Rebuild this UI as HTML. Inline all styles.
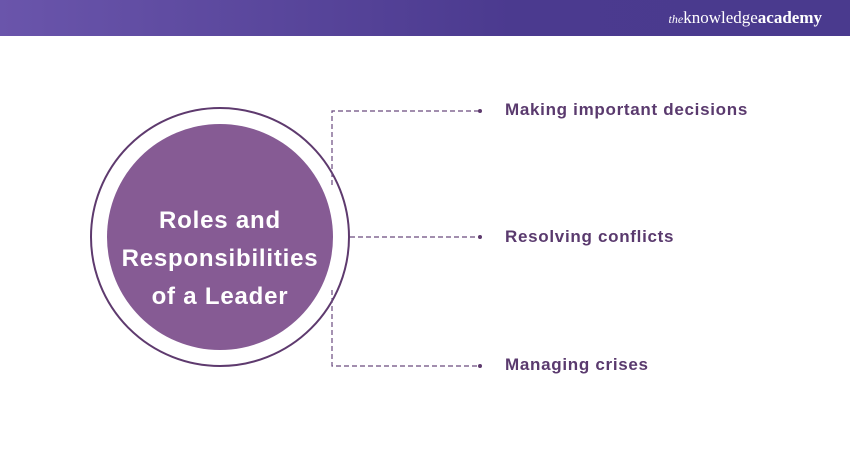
<!DOCTYPE html>
<html><head><style>
body{margin:0;width:850px;height:450px;background:#fff;overflow:hidden;font-family:"Liberation Sans",sans-serif}
.hdr{position:absolute;left:0;top:0;width:850px;height:36px;background:linear-gradient(90deg,#6a55ab,#4b3a8f 60%,#4a3a8e)}
.logo{position:absolute;right:28px;top:8px;color:#fff;font-family:"Liberation Serif",serif;font-size:17px}
.lbl{position:absolute;left:505px;font-size:17px;color:#5a3a6e;font-weight:bold;letter-spacing:0.7px}
</style></head><body>
<div class="hdr"><div class="logo"><i style="font-size:12px">the</i>knowledge<b>academy</b></div></div>
<svg width="850" height="450" style="position:absolute;left:0;top:0">
<circle cx="220" cy="237" r="129" fill="none" stroke="#5e3a6e" stroke-width="2"/>
<circle cx="220" cy="237" r="113" fill="#865b94"/>
<g stroke="#6a4a7e" stroke-width="1.2" stroke-dasharray="5,3" fill="none">
<path d="M332 185 V111 H480"/>
<path d="M350 237 H480"/>
<path d="M332 290 V366 H480"/>
</g>
<g fill="#5e3a6e"><circle cx="480" cy="111" r="2"/><circle cx="480" cy="237" r="2"/><circle cx="480" cy="366" r="2"/></g>
<g fill="#fff" font-family="Liberation Sans,sans-serif" font-weight="bold" font-size="24" letter-spacing="0.8" text-anchor="middle">
<text x="220" y="228">Roles and</text>
<text x="220" y="266">Responsibilities</text>
<text x="220" y="304">of a Leader</text>
</g>
</svg>
<div class="lbl" style="top:100px">Making important decisions</div>
<div class="lbl" style="top:227px">Resolving conflicts</div>
<div class="lbl" style="top:355px">Managing crises</div>
</body></html>
